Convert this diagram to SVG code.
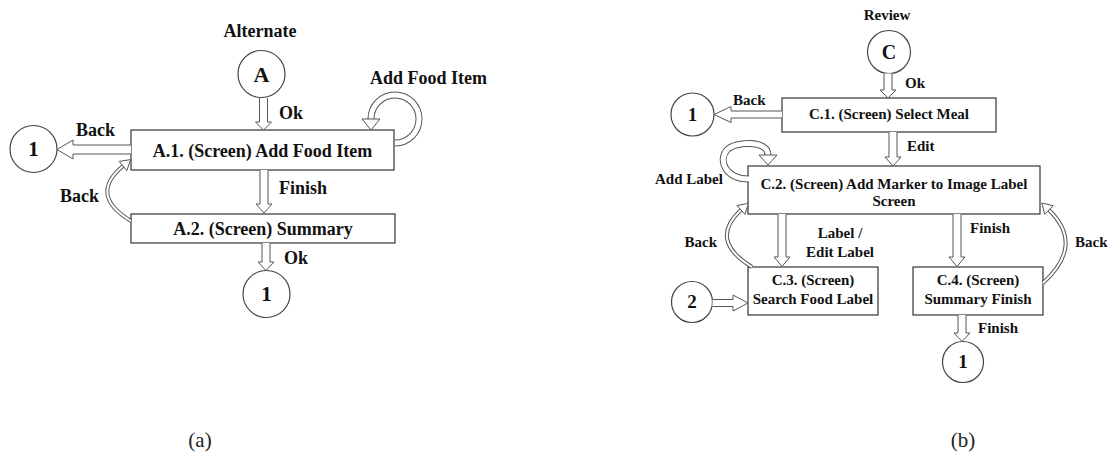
<svg xmlns="http://www.w3.org/2000/svg" width="1112" height="452" viewBox="0 0 1112 452">
<style>
.box{fill:#fff;stroke:#333;stroke-width:1.2}
.circ{fill:#fff;stroke:#444;stroke-width:1.2}
.t{font-family:"Liberation Serif","Times New Roman",serif;font-weight:bold;fill:#111}
.ta{font-size:18px}
.tb{font-size:15px}
.m{text-anchor:middle}
.e{text-anchor:end}
.blk{fill:#fff;stroke:#555;stroke-width:1}
.bandO{fill:none;stroke:#555;stroke-width:7}
.bandI{fill:none;stroke:#fff;stroke-width:5}
.thinO{fill:none;stroke:#555;stroke-width:4}
.thinI{fill:none;stroke:#fff;stroke-width:2}
.cap{font-family:"Liberation Serif","Times New Roman",serif;font-size:21px;fill:#222;text-anchor:middle}
</style>
<rect width="1112" height="452" fill="#fff"/>

<!-- Panel (a) nodes -->
<g id="label-alternate"><text class="t ta m" x="260" y="37">Alternate</text></g>
<g id="nodeA"><circle class="circ" cx="261.5" cy="74" r="23.5"/><text class="t m" style="font-size:22px" x="261.5" y="82">A</text></g>
<g id="nodeA1"><rect class="box" x="131" y="130" width="263" height="40"/><text class="t ta m" x="262.5" y="157">A.1. (Screen) Add Food Item</text></g>
<g id="nodeA2"><rect class="box" x="131" y="214" width="264" height="29"/><text class="t ta m" x="263" y="235">A.2. (Screen) Summary</text></g>
<g id="nodeA-1left"><circle class="circ" cx="33.5" cy="149" r="23.5"/><text class="t m" style="font-size:21px" x="33.5" y="156">1</text></g>
<g id="nodeA-1bottom"><circle class="circ" cx="266.5" cy="294" r="23.5"/><text class="t m" style="font-size:21px" x="266.5" y="301">1</text></g>

<!-- Panel (b) nodes -->
<g id="label-review"><text class="t tb m" x="887" y="20">Review</text></g>
<g id="nodeC"><circle class="circ" cx="889" cy="52" r="21.5"/><text class="t m" style="font-size:20px" x="889" y="59">C</text></g>
<g id="nodeC1"><rect class="box" x="782" y="98" width="214" height="34"/><text class="t tb m" x="889" y="119">C.1. (Screen) Select Meal</text></g>
<g id="nodeC2"><rect class="box" x="748" y="166" width="292" height="48"/><text class="t tb m" x="894" y="189">C.2. (Screen) Add Marker to Image Label</text><text class="t tb m" x="894" y="206">Screen</text></g>
<g id="nodeC3"><rect class="box" x="748" y="267" width="130" height="48"/><text class="t tb m" x="813" y="285">C.3. (Screen)</text><text class="t tb m" x="813" y="304">Search Food Label</text></g>
<g id="nodeC4"><rect class="box" x="913" y="267" width="130" height="48"/><text class="t tb m" x="978" y="285">C.4. (Screen)</text><text class="t tb m" x="978" y="304">Summary Finish</text></g>
<g id="nodeB-1left"><circle class="circ" cx="692.5" cy="114.5" r="21.5"/><text class="t m" style="font-size:19px" x="692.5" y="121">1</text></g>
<g id="nodeB-2"><circle class="circ" cx="692" cy="302" r="20.5"/><text class="t m" style="font-size:19px" x="692" y="308">2</text></g>
<g id="nodeB-1bottom"><circle class="circ" cx="963" cy="362" r="20.5"/><text class="t m" style="font-size:19px" x="963" y="368">1</text></g>

<!-- Connectors -->
<g id="connectors">
  <!-- (a) -->
  <path class="blk" d="M259.5,98 V122 H255.5 L263.5,130 L271.5,122 H267.5 V98"/>
  <path class="blk" d="M260,170 V204 H256 L264,213 L272,204 H268 V170"/>
  <path class="blk" d="M262,243 V262 H258 L266,270.5 L274,262 H270 V243"/>
  <path class="blk" d="M131,145 H73 V140 L57,149.5 L73,159 V154 H131"/>
  <path class="bandO" d="M395,143 A24,24 0 1 0 371,119"/>
  <path class="bandI" d="M395,143 A24,24 0 1 0 371,119"/>
  <polygon class="blk" points="362,119 380,119 371,130"/>
  <path class="thinO" d="M131,221 Q88,195 123,166"/>
  <path class="thinI" d="M131,221 Q88,195 123,166"/>
  <polygon class="blk" points="130.7,159.6 126.8,170.6 119.2,161.4"/>

  <!-- (b) -->
  <path class="blk" d="M884,73.5 V90 H880 L888,98 L896,90 H892 V73.5"/>
  <path class="blk" d="M889,132 V157 H885 L893,166 L901,157 H897 V132"/>
  <path class="blk" d="M782,111 H731 V106.5 L714,114.5 L731,122.5 V118 H782"/>
  <path class="bandO" d="M749,179 C725,179 718,160 727,150 C735,141 768,140 768,155"/>
  <path class="bandI" d="M749,179 C725,179 718,160 727,150 C735,141 768,140 768,155"/>
  <polygon class="blk" points="759,155 777,155 768,165"/>
  <path class="blk" d="M778,214 V257 H774 L782,266.5 L790,257 H786 V214"/>
  <path class="blk" d="M953,214 V257 H949 L957,266.5 L965,257 H961 V214"/>
  <path class="blk" d="M958,315 V333 H954 L962,341.5 L970,333 H966 V315"/>
  <path class="blk" d="M712.5,299.5 H733 V295 L748,303 L733,311 V306.5 H712.5"/>
  <path class="thinO" d="M752,267 Q708,240 741,210"/>
  <path class="thinI" d="M752,267 Q708,240 741,210"/>
  <polygon class="blk" points="748.4,203.3 745,214.4 737,205.6"/>
  <path class="thinO" d="M1043,283 Q1085,245 1049,210"/>
  <path class="thinI" d="M1043,283 Q1085,245 1049,210"/>
  <polygon class="blk" points="1041.8,203 1053.2,205.7 1044.8,214.3"/>
</g>

<!-- Connector labels -->
<g id="labels-a">
  <text class="t ta" x="279" y="119">Ok</text>
  <text class="t ta" x="76" y="136">Back</text>
  <text class="t ta" x="370" y="84">Add Food Item</text>
  <text class="t ta" x="279" y="194">Finish</text>
  <text class="t ta" x="60" y="202">Back</text>
  <text class="t ta" x="284" y="264">Ok</text>
</g>
<g id="labels-b">
  <text class="t tb" x="905" y="88">Ok</text>
  <text class="t tb" x="733" y="105">Back</text>
  <text class="t tb" x="907" y="151">Edit</text>
  <text class="t tb" x="655" y="184">Add Label</text>
  <text class="t tb m" x="840" y="238">Label /</text>
  <text class="t tb m" x="840" y="257">Edit Label</text>
  <text class="t tb" x="970" y="233">Finish</text>
  <text class="t tb e" x="717" y="247">Back</text>
  <text class="t tb" x="1075" y="247">Back</text>
  <text class="t tb" x="978" y="333">Finish</text>
</g>

<g id="captions">
  <text class="cap" x="200" y="447">(a)</text>
  <text class="cap" x="963" y="447">(b)</text>
</g>
</svg>
